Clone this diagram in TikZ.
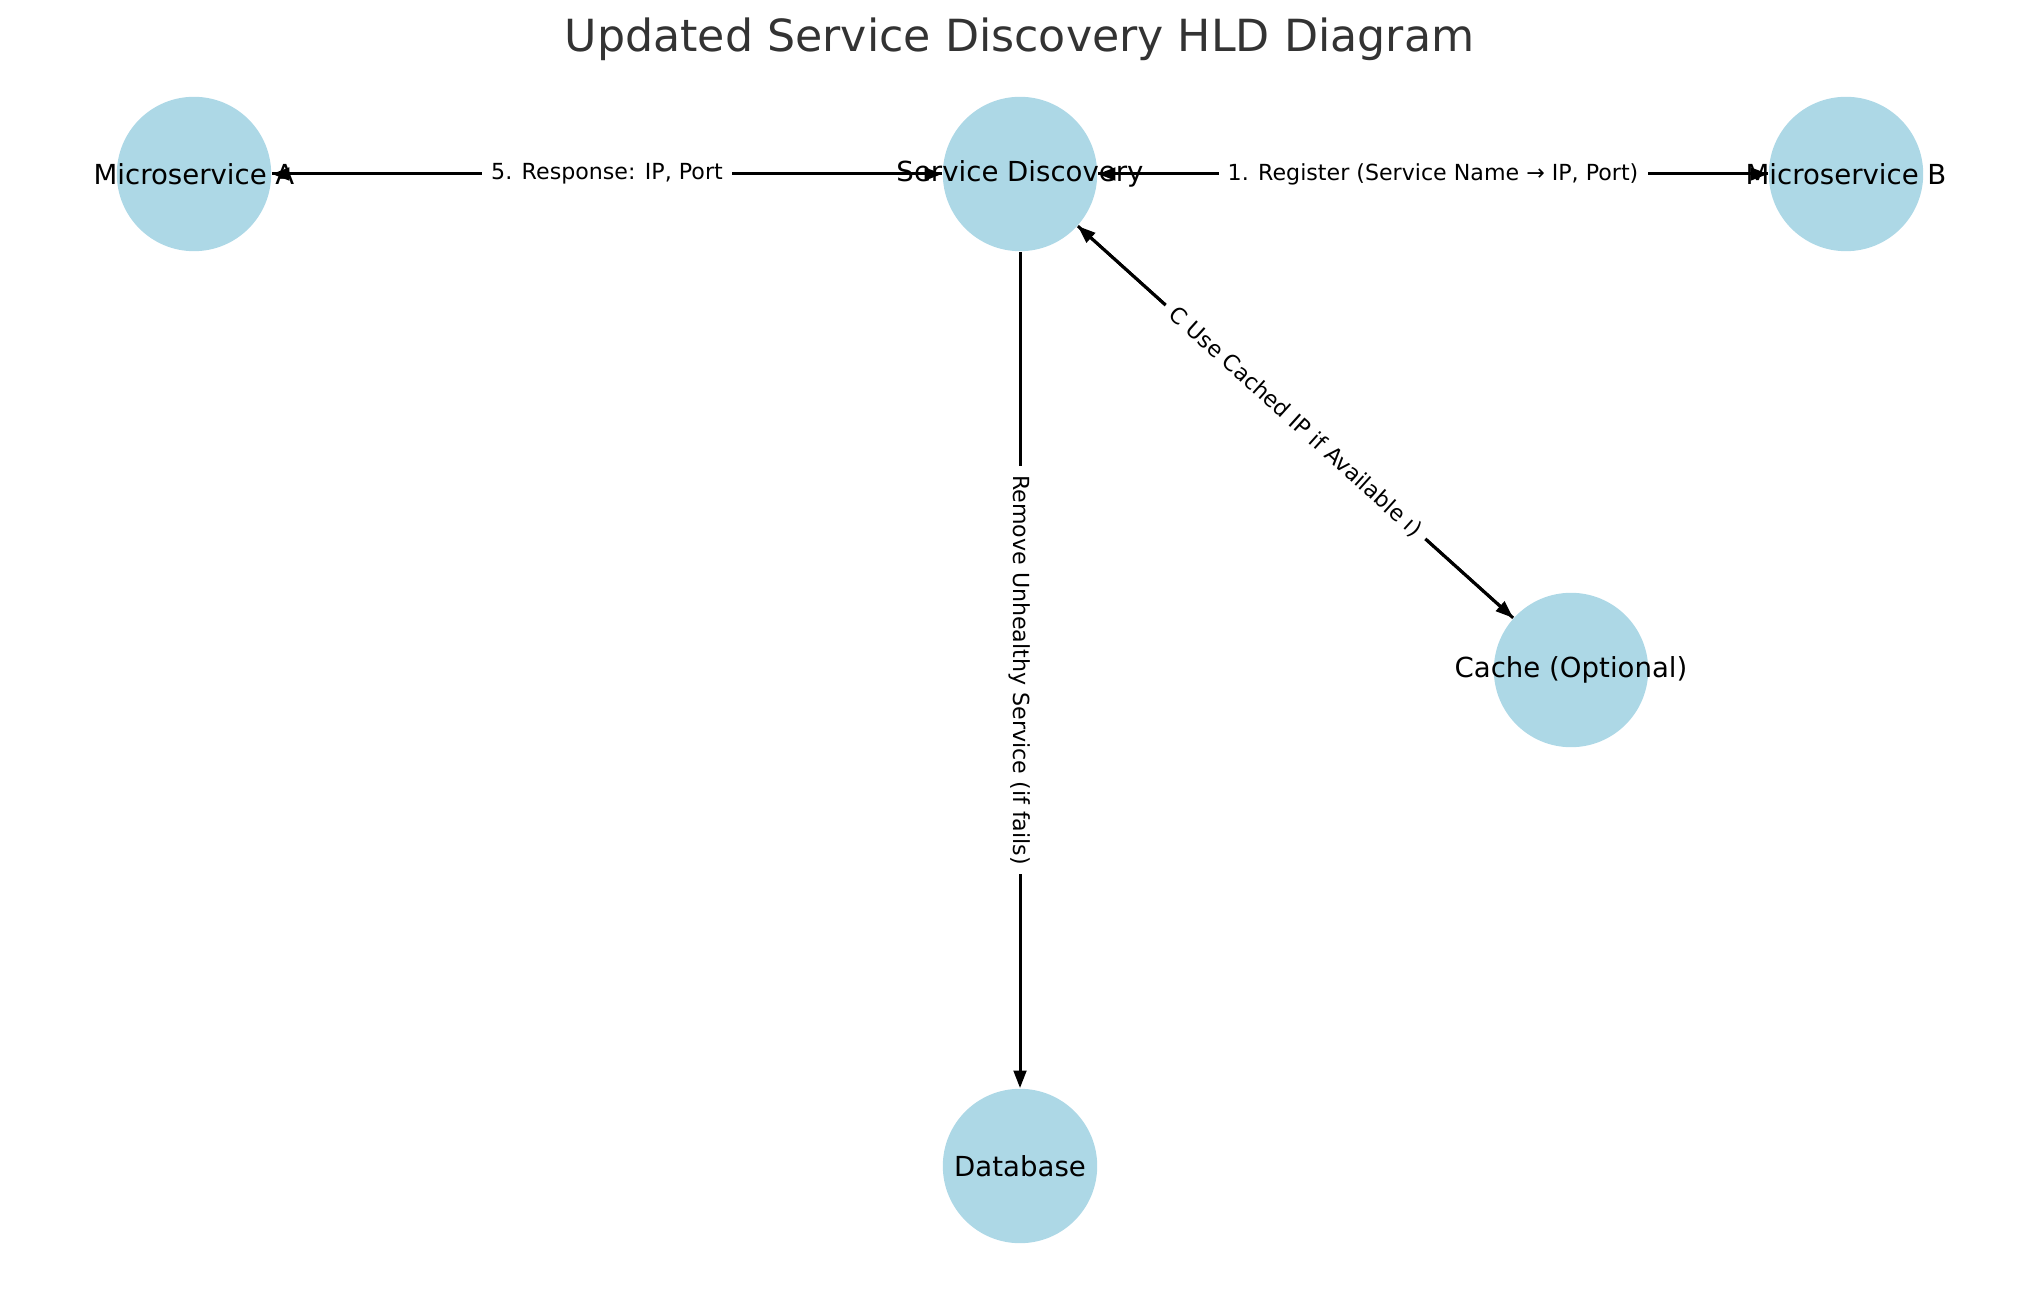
\documentclass[tikz,border=0pt]{standalone}
\usepackage{fontspec}
\setmainfont{DejaVu Sans}
\usetikzlibrary{arrows.meta}
\definecolor{nodeblue}{HTML}{ADD8E6}
\definecolor{titlegray}{HTML}{333333}
\tikzset{
	service/.style = {fill = nodeblue,
					  shape = circle,
					  minimum size = 1.544cm,
					  inner sep = 0pt},
	servicetext/.style = {font = \fontsize{7.85}{9}\selectfont},
	edgelabel/.style = {fill = white,
						inner sep = 2.6pt,
						font = \fontsize{6.3}{7.5}\selectfont},
	flow/.style = {line width = 0.85pt,
				   -{Triangle[length = 5pt, width = 3.6pt]}}
}
\begin{document}
\begin{tikzpicture}

	\useasboundingbox (0,0) rectangle (20.39,12.90);

	\draw (10.195,12.51) node[text = titlegray,
							  font = \fontsize{12.6}{15}\selectfont] (title)
							  {Updated Service Discovery HLD Diagram};

	\draw (1.94,11.16) node[service,
							label = {[servicetext]center:Microservice A}] (msa) {};

	\draw (10.20,11.16) node[service,
							 label = {[servicetext]center:Service Discovery}] (sd) {};

	\draw (18.46,11.16) node[service,
							 label = {[servicetext]center:Microservice B}] (msb) {};

	\draw (15.71,6.20) node[service,
							label = {[servicetext]center:Cache (Optional)}] (cache) {};

	\draw (10.20,1.24) node[service,
							label = {[servicetext]center:Database}] (db) {};

	\draw[flow] (sd) -- (msa);
	\draw[flow] (msa) -- node[edgelabel] {5. Response: IP, Port} (sd);

	\draw[flow] (msb) -- (sd);
	\draw[flow] (sd) -- node[edgelabel] {1. Register (Service Name → IP, Port)} (msb);

	\draw[flow] (cache) -- (sd);
	\draw[flow] (sd) -- node[edgelabel, sloped] {C Use Cached IP if Available ı)} (cache);

	\draw[flow] (sd) -- node[edgelabel, sloped] {Remove Unhealthy Service (if fails)} (db);
\end{tikzpicture}
\end{document}
